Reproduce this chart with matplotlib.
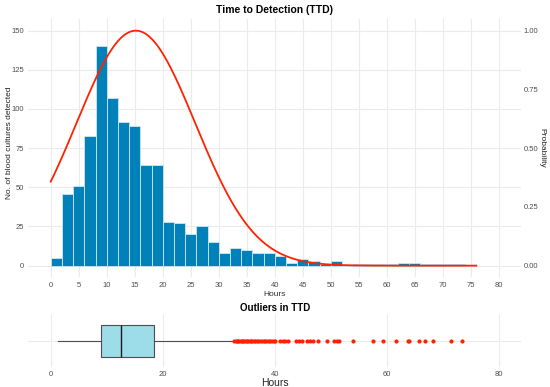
import numpy as np
import matplotlib
matplotlib.use("Agg")
import matplotlib.pyplot as plt

plt.rcParams['font.family'] = ['Liberation Sans', 'DejaVu Sans']

# ---- data ----
bin_edges = list(range(0, 76, 2))  # 0,2,...,74
counts = [5, 46, 51, 83, 140, 107, 92, 89, 64, 64,
          28, 27, 20, 25, 15, 8, 11, 10, 8, 8,
          6, 2, 4, 3, 1, 3, 0, 1, 1, 1,
          1, 2, 2, 1, 1, 1, 1]
fit_mean = 15.2
fit_sd = 10.6
curve_xmax = 76

box_q1, box_median, box_q3 = 8.9, 12.6, 18.45
whisker_low, whisker_high = 1.3, 32.5
outliers = [32.8, 33.0, 33.2, 33.4, 33.6, 33.9, 34.1, 34.3, 34.6, 34.8,
            35.0, 35.3, 35.5, 35.8, 36.0, 36.3, 36.5, 36.8, 37.1, 37.4,
            37.7, 38.0, 38.3, 38.6, 38.9, 39.2, 39.5, 39.8, 40.0,
            40.9, 41.4, 41.8, 42.3, 43.8, 44.3, 44.8, 45.8, 46.3, 46.9, 47.7,
            49.3, 50.6, 51.1, 51.4, 54.0, 57.6, 59.3, 61.6, 63.75, 64.0,
            65.7, 66.9, 68.3, 71.5, 73.4]

x_ticks_top = list(range(0, 81, 5))
y_ticks_left = [0, 25, 50, 75, 100, 125, 150]
y_ticks_right = [0.0, 0.25, 0.5, 0.75, 1.0]
x_ticks_bottom = [0, 20, 40, 60, 80]

bar_color = "#0181B9"
grid_color = "#EBEBEB"
tick_color = "#4D4D4D"

fig = plt.figure(figsize=(5.5, 3.87), dpi=100)

# ---- top panel ----
ax = fig.add_axes([0.0515, 0.2832, 0.896, 0.668])
ax.set_axisbelow(True)
lefts = np.array(bin_edges[:len(counts)])
ax.bar(lefts, counts, width=2, align='edge', color=bar_color,
       edgecolor="#CDE7F2", linewidth=0.6, zorder=2)
scale = 150.0
xs = np.linspace(0, curve_xmax, 400)
dens = np.exp(-0.5 * ((xs - fit_mean) / fit_sd) ** 2)
ax.plot(xs, dens * scale, color="#FF2200", lw=1.3, zorder=3)

ax.set_xlim(-4, 84)
ax.set_ylim(-7.5, 157.5)
ax.set_xticks(x_ticks_top)
ax.set_yticks(y_ticks_left)
ax.grid(True, color=grid_color, lw=0.8)
for s in ax.spines.values():
    s.set_visible(False)
ax.tick_params(length=0, labelsize=5.5, labelcolor=tick_color, pad=3)
ax.set_xlabel("Hours", fontsize=6, color="#333333", labelpad=2)
ax.set_ylabel("No. of blood cultures detected", fontsize=6, color="#222222")
ax.yaxis.set_label_coords(-0.031, 0.52)
ax.set_title("Time to Detection (TTD)", fontsize=7.5, fontweight='bold', pad=4)

ax2 = ax.twinx()
ax2.set_ylim(-7.5 / scale, 157.5 / scale)
ax2.set_yticks(y_ticks_right)
ax2.set_yticklabels([f"{v:.2f}" for v in y_ticks_right])
for s in ax2.spines.values():
    s.set_visible(False)
ax2.tick_params(length=0, labelsize=5.5, labelcolor=tick_color, pad=2)
ax2.set_ylabel("Probability", fontsize=6, color="#222222", rotation=270)
ax2.yaxis.set_label_coords(1.049, 0.5)

# ---- bottom panel ----
bx = fig.add_axes([0.0515, 0.0517, 0.896, 0.1344])
bx.set_axisbelow(True)
bp = bx.boxplot([[whisker_low, box_q1, box_median, box_q3, whisker_high]],
                positions=[0], vert=False, widths=0.72, patch_artist=True,
                whis=(0, 100), showfliers=False)
for b in bp['boxes']:
    b.set_facecolor("#9DDCE9")
    b.set_edgecolor("#4D4D4D")
    b.set_linewidth(0.8)
for w in bp['whiskers']:
    w.set_color("#4D4D4D")
    w.set_linewidth(0.8)
for c in bp['caps']:
    c.set_visible(False)
for m in bp['medians']:
    m.set_color("#1A1A1A")
    m.set_linewidth(1.0)
bx.scatter(outliers, np.zeros(len(outliers)), s=9, color="#FF2200", zorder=3, linewidths=0)
bx.set_xlim(-4, 84)
bx.set_ylim(-0.6, 0.6)
bx.set_xticks(x_ticks_bottom)
bx.set_yticks([0])
bx.set_yticklabels([])
bx.grid(True, color=grid_color, lw=0.8)
for s in bx.spines.values():
    s.set_visible(False)
bx.tick_params(length=0, labelsize=5.5, labelcolor=tick_color, pad=3)
bx.set_xlabel("Hours", fontsize=7.5, color="#222222", labelpad=0)
bx.set_title("Outliers in TTD", fontsize=7, fontweight='bold', pad=3)

fig.savefig("out.png", dpi=100)
